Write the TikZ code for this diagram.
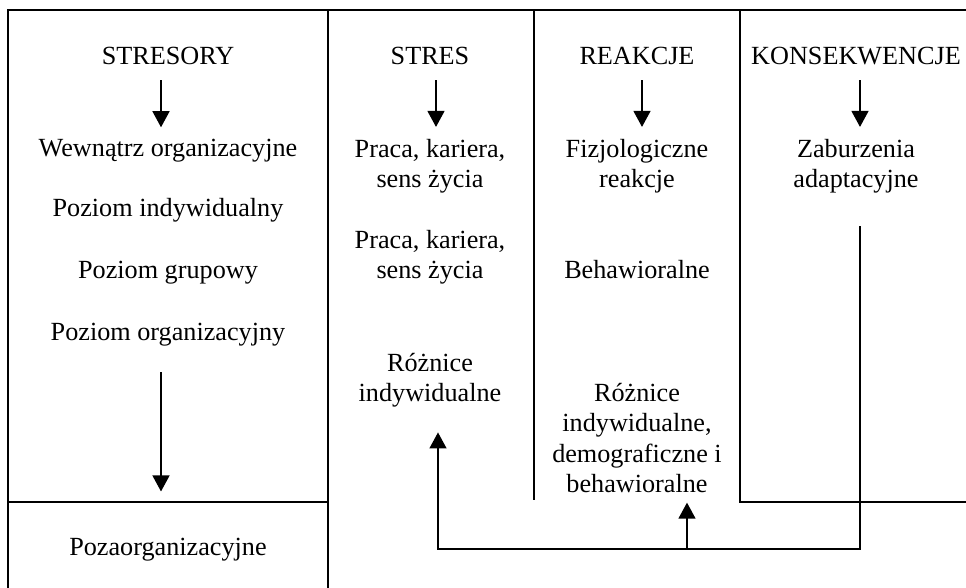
\documentclass[tikz,border=0pt]{standalone}
\usepackage{fontspec}
\setmainfont{Liberation Serif}
\usetikzlibrary{arrows.meta, positioning}

\begin{document}
\begin{tikzpicture}[x=0.5pt, y=-0.5pt]
\tikzstyle{txt} = [align=center, inner sep=0pt, anchor=base, font=\fontsize{13.1}{15.25}\selectfont]
\tikzstyle{frame} = [draw, line width=0.7pt]
\tikzstyle{line} = [draw, line width=0.7pt, -{Triangle[width=8.5pt, length=8pt]}]

\useasboundingbox (0,0) rectangle (966,588);

% frame of the columns
\draw [frame] (966,10) -- (8,10) -- (8,588);
\draw [frame] (328,10) -- (328,588);
\draw [frame] (8,502) -- (328,502);
\draw [frame] (534,10) -- (534,500);
\draw [frame] (740,10) -- (740,502) -- (966,502);

% column heads
\node [txt] (stresory) at (168,65) {STRESORY};
\node [txt] (stres) at (430,65) {STRES};
\node [txt] (reakcje) at (637,65) {REAKCJE};
\node [txt] (konsekw) at (856,65) {KONSEKWENCJE};

% stresory (base = last line)
\node [txt] (wewn) at (168,157) {Wewnątrz organizacyjne};
\node [txt] (pind) at (168,217) {Poziom indywidualny};
\node [txt] (pgrup) at (168,279) {Poziom grupowy};
\node [txt] (porg) at (168,341) {Poziom organizacyjny};
\node [txt] (pozaorg) at (168,556) {Pozaorganizacyjne};

% stres
\node [txt] (praca1) at (430,188) {Praca, kariera,\\sens życia};
\node [txt] (praca2) at (430,279) {Praca, kariera,\\sens życia};
\node [txt] (roznice1) at (430,402) {Różnice\\indywidualne};

% reakcje
\node [txt] (fizjo) at (637,188) {Fizjologiczne\\reakcje};
\node [txt] (behaw) at (637,279) {Behawioralne};
\node [txt] (roznice2) at (637,493) {Różnice\\indywidualne,\\demograficzne i\\behawioralne};

% konsekwencje
\node [txt] (zab) at (856,188) {Zaburzenia\\adaptacyjne};

\coordinate (fb) at (687,549);

\draw [line, shorten <=7.3pt, shorten >=6pt] ([xshift=-3.5pt]stresory.south) -- ([xshift=-3.5pt]wewn.north);
\draw [line, shorten <=7.3pt, shorten >=6pt] ([xshift=3pt]stres.south) -- ([xshift=3pt]praca1.north);
\draw [line, shorten <=7.3pt, shorten >=6pt] ([xshift=2.5pt]reakcje.south) -- ([xshift=2.5pt]fizjo.north);
\draw [line, shorten <=7.3pt, shorten >=6pt] ([xshift=2pt]konsekw.south) -- ([xshift=2pt]zab.north);
\draw [line, shorten <=12.7pt, shorten >=23.4pt] ([xshift=-3.5pt]porg.south) -- ([xshift=-3.5pt]pozaorg.north);

% feedback
\draw [line, shorten <=16.2pt, shorten >=12.2pt] ([xshift=2pt]zab.south) |- (fb) -| ([xshift=4pt]roznice1.south);
\draw [line, shorten >=4.5pt] (fb) -- (fb |- roznice2.south);

\end{tikzpicture}
\end{document}
